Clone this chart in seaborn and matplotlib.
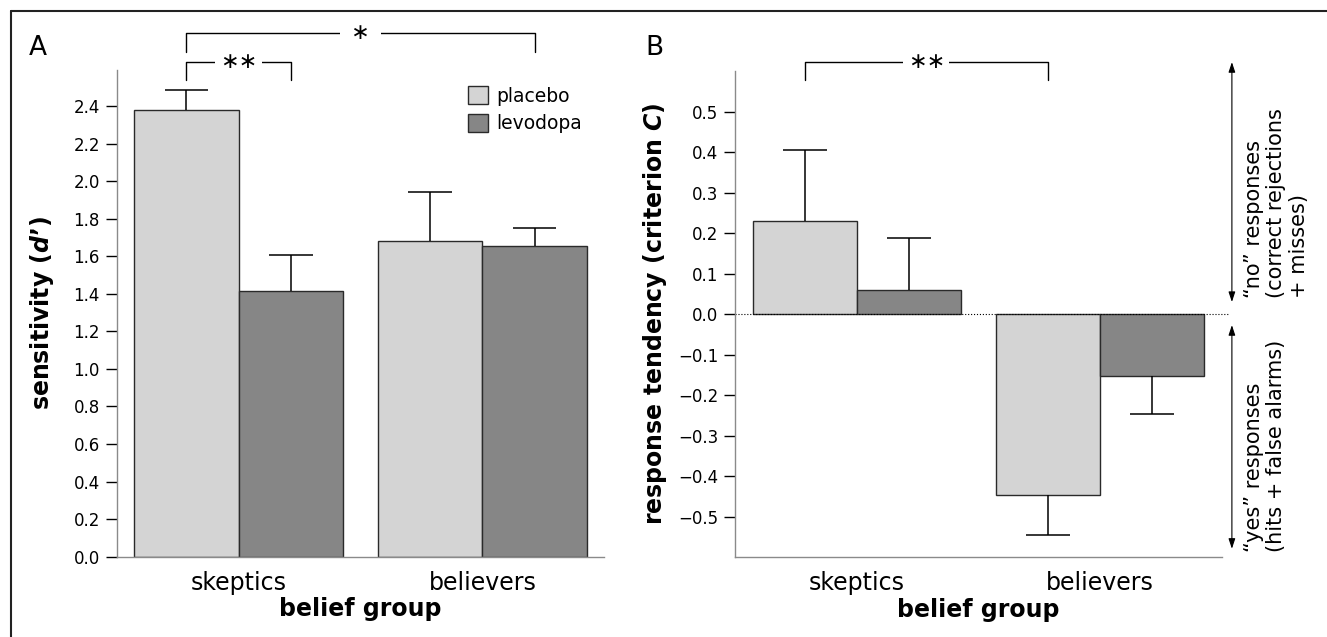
import numpy as np
import pandas as pd
import matplotlib.pyplot as plt
import matplotlib.transforms as mtransforms
from matplotlib.container import BarContainer
from matplotlib.patches import Patch
from matplotlib.lines import Line2D
import seaborn as sns

# data
groups = ['skeptics', 'believers']
treatments = ['placebo', 'levodopa']
sens_placebo = [2.377, 1.681]
sens_levodopa = [1.416, 1.656]
sens_placebo_se = [0.108, 0.263]
sens_levodopa_se = [0.192, 0.096]
crit_placebo = [0.229, -0.446]
crit_levodopa = [0.060, -0.152]
crit_placebo_se = [0.176, 0.100]
crit_levodopa_se = [0.129, 0.094]
sens_ticks = [0.0, 0.2, 0.4, 0.6, 0.8, 1.0, 1.2, 1.4, 1.6, 1.8, 2.0, 2.2, 2.4]
crit_ticks = [-0.5, -0.4, -0.3, -0.2, -0.1, 0.0, 0.1, 0.2, 0.3, 0.4, 0.5]
colors = {'placebo': '#d4d4d4', 'levodopa': '#868686'}

sns.set_style('white')
plt.rcParams['font.family'] = ['DejaVu Sans']
plt.rcParams['mathtext.fontset'] = 'custom'
plt.rcParams['mathtext.it'] = 'DejaVu Sans:italic:bold'
plt.rcParams['mathtext.rm'] = 'DejaVu Sans:bold'
for k in ['text.color', 'axes.labelcolor', 'xtick.color', 'ytick.color']:
    plt.rcParams[k] = 'black'


def long_df(placebo, levodopa):
    return pd.DataFrame({'group': groups * 2,
                         'treatment': ['placebo'] * 2 + ['levodopa'] * 2,
                         'value': placebo + levodopa})


def bars(ax):
    return [c for c in ax.containers if isinstance(c, BarContainer)]


def add_errbars(ax, errs):
    # one-sided error bars, pointing away from zero
    for cont, err in zip(bars(ax), errs):
        for bar, e in zip(cont.patches, err):
            x = bar.get_x() + bar.get_width() / 2
            y = bar.get_y() + bar.get_height()
            end = y + e if y >= 0 else y - e
            half = 0.21 * bar.get_width()
            ax.vlines(x, y, end, color='black', lw=1.1, zorder=3)
            ax.hlines(end, x - half, x + half, color='black', lw=1.1, zorder=3)


def centers(ax):
    return [[b.get_x() + b.get_width() / 2 for b in c.patches] for c in bars(ax)]


def bracket(ax, x1, x2, ytop, yleg, label):
    ax.plot([x1, x1, x2, x2], [yleg, ytop, ytop, yleg], color='black', lw=1, clip_on=False)
    ax.text((x1 + x2) / 2, ytop, label, ha='center', va='center', fontsize=16,
            bbox=dict(boxstyle='square,pad=0.2', fc='white', ec='none'), clip_on=False)


def style_axes(ax):
    sns.despine(ax=ax)
    for s in ['left', 'bottom']:
        ax.spines[s].set_color('#8a8a8a')
        ax.spines[s].set_linewidth(1)
    ax.set_xlim(-0.5, 1.5)
    ax.tick_params(axis='x', length=0, pad=10, labelsize=17)
    ax.tick_params(axis='y', length=8, width=1, pad=4, labelsize=12, color='black', left=True)
    ax.set_xlabel('belief group', fontsize=17, fontweight='bold', labelpad=2)


fig = plt.figure(figsize=(13.27, 6.37), dpi=100)
axA = fig.add_axes([0.0879, 0.1261, 0.3675, 0.7640])
axB = fig.add_axes([0.5539, 0.1251, 0.3668, 0.7634])

# panel A: sensitivity
sns.barplot(data=long_df(sens_placebo, sens_levodopa), x='group', y='value', hue='treatment',
            order=groups, hue_order=treatments, palette=colors, width=0.855,
            edgecolor='#2a2a2a', linewidth=1, errorbar=None, legend=False, ax=axA)
add_errbars(axA, [sens_placebo_se, sens_levodopa_se])
style_axes(axA)
axA.set_ylim(0, 2.592)
axA.set_yticks(sens_ticks)
axA.set_yticklabels([f'{t:.1f}' for t in sens_ticks])
axA.set_ylabel('sensitivity ($d$\u2019)', fontsize=17, fontweight='bold')
axA.yaxis.set_label_coords(-0.125, 0.5)
cA = centers(axA)
bracket(axA, cA[0][0], cA[1][0], 2.634, 2.538, '\u2217\u2217')
bracket(axA, cA[0][0], cA[1][1], 2.787, 2.686, ' \u2217 ')
handles = [Patch(facecolor=colors[t], edgecolor='#2a2a2a', lw=1, label=t) for t in treatments]
axA.legend(handles=handles, loc='upper left', bbox_to_anchor=(467.7 / 1327, 1 - 86.3 / 637),
           bbox_transform=fig.transFigure, frameon=False, fontsize=13.5,
           handlelength=1.07, handleheight=1.07, handletextpad=0.45, labelspacing=0.45,
           borderpad=0, borderaxespad=0)

# panel B: criterion
sns.barplot(data=long_df(crit_placebo, crit_levodopa), x='group', y='value', hue='treatment',
            order=groups, hue_order=treatments, palette=colors, width=0.855,
            edgecolor='#2a2a2a', linewidth=1, errorbar=None, legend=False, ax=axB)
add_errbars(axB, [crit_placebo_se, crit_levodopa_se])
style_axes(axB)
axB.set_ylim(-0.6, 0.6)
axB.set_yticks(crit_ticks)
axB.set_yticklabels([f'{t:.1f}'.replace('-', '\u2212') for t in crit_ticks])
axB.set_ylabel('response tendency (criterion $C$)', fontsize=17, fontweight='bold')
axB.yaxis.set_label_coords(-0.136, 0.5)
axB.axhline(0, xmin=0, xmax=1.015, color='black', lw=0.8, ls=':', clip_on=False, zorder=1)
cB = centers(axB)
bracket(axB, cB[0][0], cB[0][1], 0.623, 0.578, '\u2217\u2217')

trans = mtransforms.blended_transform_factory(axB.transAxes, axB.transData)
arrow = dict(arrowstyle='<|-|>,head_length=0.6,head_width=0.2', color='black', lw=0.8,
             shrinkA=0, shrinkB=0)
axB.annotate('', xy=(1.0208, 0.622), xytext=(1.0208, 0.030), xycoords=trans,
             textcoords=trans, arrowprops=arrow, annotation_clip=False)
axB.annotate('', xy=(1.0208, -0.027), xytext=(1.0208, -0.579), xycoords=trans,
             textcoords=trans, arrowprops=arrow, annotation_clip=False)
axB.text(1.0458, 0.040, '\u201cno\u201d responses\n(correct rejections\n+ misses)', transform=trans,
         rotation=90, ha='left', va='bottom', multialignment='left', fontsize=15,
         linespacing=1.15, clip_on=False)
axB.text(1.0458, -0.588, '\u201cyes\u201d responses\n(hits + false alarms)', transform=trans,
         rotation=90, ha='left', va='bottom', multialignment='left', fontsize=15,
         linespacing=1.15, clip_on=False)

# panel letters and frame
fig.text(38 / 1327, 1 - 55 / 637, 'A', fontsize=19, ha='center', va='baseline')
fig.text(654 / 1327, 1 - 55 / 637, 'B', fontsize=19, ha='center', va='baseline')
fig.add_artist(Line2D([11 / 1327, 11 / 1327], [0, 1 - 11 / 637], transform=fig.transFigure,
                      color='#222222', lw=1.5))
fig.add_artist(Line2D([11 / 1327, 1], [1 - 11 / 637, 1 - 11 / 637], transform=fig.transFigure,
                      color='#222222', lw=1.5))

fig.savefig('out.png', dpi=100)
